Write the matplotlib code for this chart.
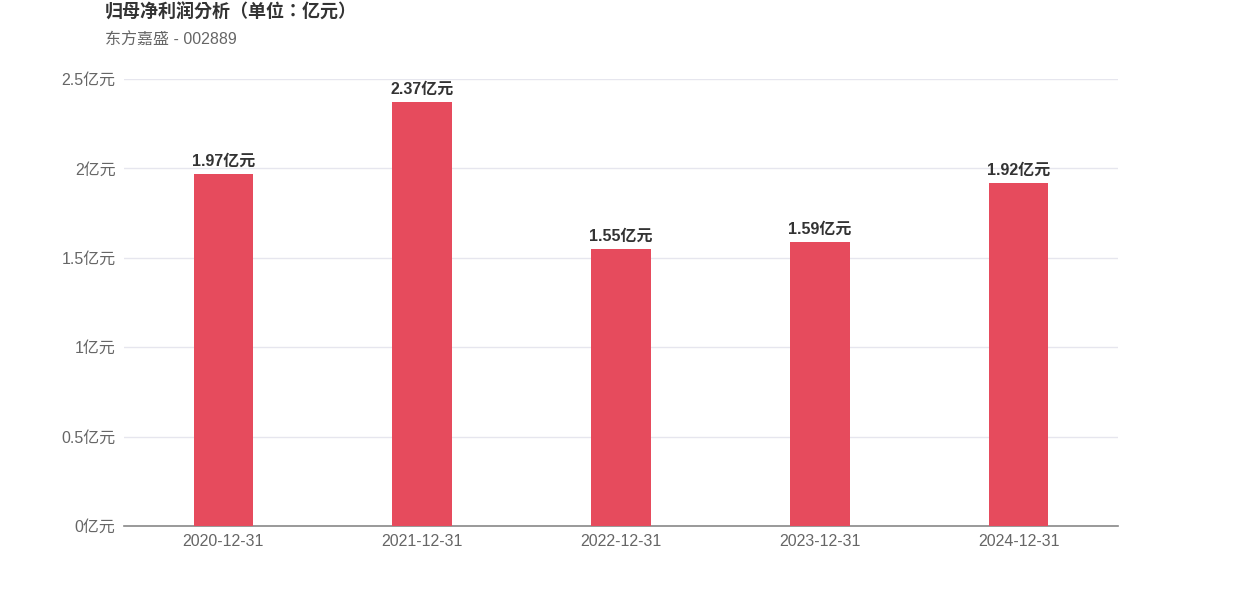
import numpy as np
import matplotlib.pyplot as plt

plt.rcParams['font.family'] = ['Liberation Sans', 'Noto Sans CJK SC', 'DejaVu Sans']

dates = ['2020-12-31', '2021-12-31', '2022-12-31', '2023-12-31', '2024-12-31']
profit = [1.97, 2.37, 1.55, 1.59, 1.92]
yticks = [0, 0.5, 1, 1.5, 2, 2.5]
ytick_labels = ['0亿元', '0.5亿元', '1亿元', '1.5亿元', '2亿元', '2.5亿元']

fig = plt.figure(figsize=(12.42, 5.96), dpi=100)
ax = fig.add_axes([0.0998, 0.1174, 0.8004, 0.75])

x = np.arange(len(dates))
ax.bar(x, profit, width=0.3, color='#e64b5d', zorder=3)
for xi, v in zip(x, profit):
    ax.text(xi, v + 0.03, f'{v:.2f}亿元', ha='center', va='bottom',
            fontsize=11.5, fontweight='bold', color='#333333')

ax.set_xlim(-0.5, len(dates) - 0.5)
ax.set_ylim(0, 2.5)
ax.set_xticks(x)
ax.set_xticklabels(dates)
ax.set_yticks(yticks)
ax.set_yticklabels(ytick_labels)
ax.tick_params(axis='both', length=0, labelsize=11.5, labelcolor='#666666')
ax.tick_params(axis='x', pad=6)
ax.tick_params(axis='y', pad=6)
ax.grid(axis='y', color='#e6e6ee', linewidth=1, zorder=0)
for s in ['top', 'right', 'left']:
    ax.spines[s].set_visible(False)
ax.spines['bottom'].set_color('#888888')
ax.spines['bottom'].set_linewidth(1.2)

fig.text(105 / 1242, 1 - 13 / 596, '归母净利润分析（单位：亿元）', ha='left', va='center',
         fontsize=13, fontweight='bold', color='#333333',
         family=['Liberation Sans', 'Noto Sans CJK TC'])
fig.text(105 / 1242, 1 - 40 / 596, '东方嘉盛 - 002889', ha='left', va='center',
         fontsize=11.5, color='#666666')

plt.savefig('out.png', dpi=100)
